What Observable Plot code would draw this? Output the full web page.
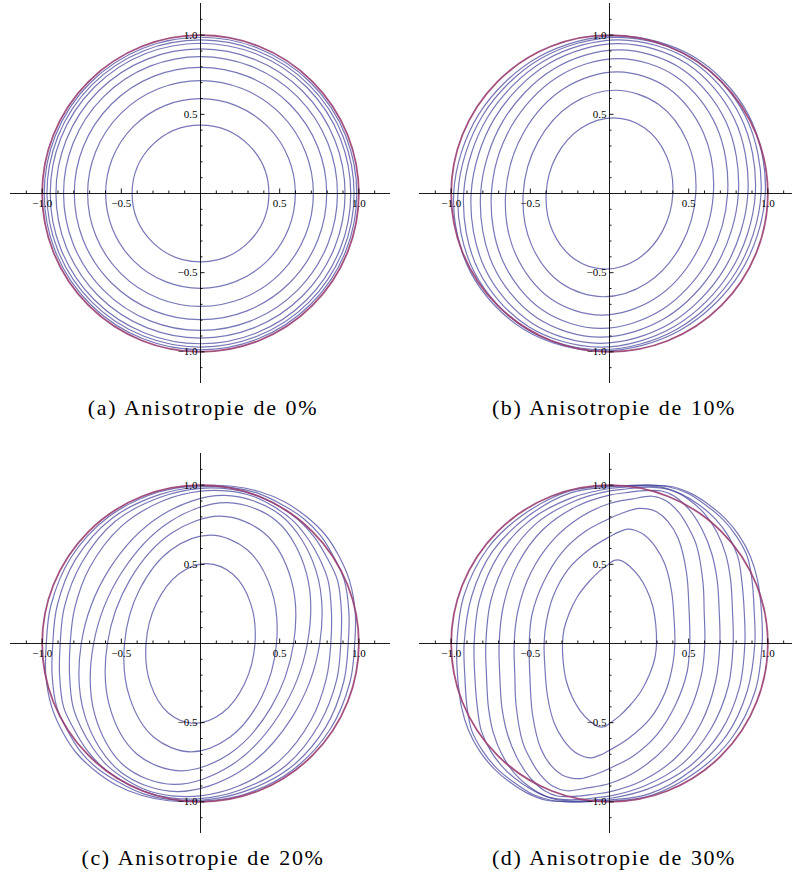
<!DOCTYPE html>
<html>
<head>
<meta charset="utf-8">
<script src="https://cdn.jsdelivr.net/npm/d3@7"></script>
<script src="https://cdn.jsdelivr.net/npm/@observablehq/plot@0.6"></script>
<style>
  html, body { margin: 0; padding: 0; background: #fff; }
  #page { position: relative; width: 792px; height: 877px; overflow: hidden; background: #fff; }
  .panel { position: absolute; }
  .caption {
    position: absolute; width: 340px; text-align: center; white-space: nowrap;
    font-family: "Liberation Serif", serif; font-size: 22px; line-height: 20px;
    letter-spacing: 1.6px; word-spacing: 1px; color: #000;
  }
</style>
</head>
<body>
<div id="page"></div>
<script>
// Level curves of the four cases, each listed counter-clockwise from its
// crossing of the positive x-axis, in plot units.

// (a) isotropic case: concentric circles, given by radius
const radiiA = [0.432, 0.599, 0.713, 0.797, 0.865, 0.913, 0.949, 0.970, 0.987];

// unit circle drawn in every panel
const boundary = [{ r: 1 }];

// (b) 10 %
const curvesB = [
  [[0.40,0],[0.359,0.239],[0.222,0.413],[0.025,0.477],[-0.178,0.413],[-0.334,0.239],[-0.40,0],[-0.359,-0.239],[-0.222,-0.413],[-0.025,-0.477],[0.178,-0.413],[0.334,-0.239]],
  [[0.545,0],[0.492,0.326],[0.307,0.565],[0.04,0.652],[-0.238,0.565],[-0.452,0.326],[-0.545,0],[-0.492,-0.326],[-0.307,-0.565],[-0.04,-0.652],[0.238,-0.565],[0.452,-0.326]],
  [[0.656,0],[0.593,0.384],[0.371,0.665],[0.05,0.768],[-0.285,0.665],[-0.543,0.384],[-0.656,0],[-0.593,-0.384],[-0.371,-0.665],[-0.05,-0.768],[0.285,-0.665],[0.543,-0.384]],
  [[0.746,0],[0.674,0.426],[0.421,0.738],[0.055,0.852],[-0.325,0.738],[-0.619,0.426],[-0.746,0],[-0.674,-0.426],[-0.421,-0.738],[-0.055,-0.852],[0.325,-0.738],[0.619,-0.426]],
  [[0.814,0],[0.735,0.454],[0.459,0.785],[0.06,0.907],[-0.355,0.785],[-0.675,0.454],[-0.814,0],[-0.735,-0.454],[-0.459,-0.785],[-0.06,-0.907],[0.355,-0.785],[0.675,-0.454]],
  [[0.874,0],[0.787,0.473],[0.489,0.819],[0.06,0.946],[-0.385,0.819],[-0.727,0.473],[-0.874,0],[-0.787,-0.473],[-0.489,-0.819],[-0.06,-0.946],[0.385,-0.819],[0.727,-0.473]],
  [[0.921,0],[0.828,0.485],[0.513,0.84],[0.06,0.97],[-0.409,0.84],[-0.768,0.485],[-0.921,0],[-0.828,-0.485],[-0.513,-0.84],[-0.06,-0.97],[0.409,-0.84],[0.768,-0.485]],
  [[0.957,0],[0.856,0.493],[0.526,0.854],[0.055,0.986],[-0.431,0.854],[-0.801,0.493],[-0.957,0],[-0.856,-0.493],[-0.526,-0.854],[-0.055,-0.986],[0.431,-0.854],[0.801,-0.493]],
  [[0.984,0],[0.877,0.498],[0.535,0.862],[0.05,0.995],[-0.449,0.862],[-0.827,0.498],[-0.984,0],[-0.877,-0.498],[-0.535,-0.862],[-0.05,-0.995],[0.449,-0.862],[0.827,-0.498]]
];

// (c) 20 %
const curvesC = [
  [[0.344,0],[0.317,0.252],[0.205,0.437],[0.038,0.504],[-0.139,0.437],[-0.279,0.252],[-0.344,0],[-0.317,-0.252],[-0.205,-0.437],[-0.038,-0.504],[0.139,-0.437],[0.279,-0.252]],
  [[0.48,0],[0.447,0.342],[0.295,0.592],[0.063,0.684],[-0.185,0.592],[-0.384,0.342],[-0.48,0],[-0.447,-0.342],[-0.295,-0.592],[-0.063,-0.684],[0.185,-0.592],[0.384,-0.342]],
  [[0.588,0],[0.573,0.402],[0.404,0.696],[0.127,0.804],[-0.184,0.696],[-0.446,0.402],[-0.588,0],[-0.573,-0.402],[-0.404,-0.696],[-0.127,-0.804],[0.184,-0.696],[0.446,-0.402]],
  [[0.675,0],[0.669,0.445],[0.484,0.771],[0.169,0.89],[-0.191,0.771],[-0.5,0.445],[-0.675,0],[-0.669,-0.445],[-0.484,-0.771],[-0.169,-0.89],[0.191,-0.771],[0.5,-0.445]],
  [[0.753,0],[0.727,0.468],[0.506,0.81],[0.15,0.935],[-0.246,0.81],[-0.577,0.468],[-0.753,0],[-0.727,-0.468],[-0.506,-0.81],[-0.15,-0.935],[0.246,-0.81],[0.577,-0.468]],
  [[0.823,0],[0.827,0.2],[0.805,0.4],[0.75,0.54],[0.68,0.66],[0.59,0.77],[0.47,0.86],[0.33,0.93],[0.18,0.962],[0,0.962],[-0.24,0.9],[-0.5,0.74],[-0.7,0.48],[-0.795,0.22],
   [-0.823,0],[-0.827,-0.2],[-0.805,-0.4],[-0.75,-0.54],[-0.68,-0.66],[-0.59,-0.77],[-0.47,-0.86],[-0.33,-0.93],[-0.18,-0.962],[0,-0.962],[0.24,-0.9],[0.5,-0.74],[0.7,-0.48],[0.795,-0.22]],
  [[0.886,0],[0.89,0.2],[0.865,0.4],[0.8,0.54],[0.72,0.67],[0.62,0.78],[0.49,0.87],[0.34,0.94],[0.19,0.975],[0,0.98],[-0.25,0.925],[-0.54,0.77],[-0.75,0.51],[-0.86,0.23],
   [-0.886,0],[-0.89,-0.2],[-0.865,-0.4],[-0.8,-0.54],[-0.72,-0.67],[-0.62,-0.78],[-0.49,-0.87],[-0.34,-0.94],[-0.19,-0.975],[0,-0.98],[0.25,-0.925],[0.54,-0.77],[0.75,-0.51],[0.86,-0.23]],
  [[0.933,0],[0.937,0.2],[0.908,0.4],[0.84,0.55],[0.76,0.68],[0.65,0.79],[0.51,0.88],[0.36,0.95],[0.2,0.985],[0,0.99],[-0.26,0.94],[-0.56,0.79],[-0.79,0.53],[-0.905,0.24],
   [-0.933,0],[-0.937,-0.2],[-0.908,-0.4],[-0.84,-0.55],[-0.76,-0.68],[-0.65,-0.79],[-0.51,-0.88],[-0.36,-0.95],[-0.2,-0.985],[0,-0.99],[0.26,-0.94],[0.56,-0.79],[0.79,-0.53],[0.905,-0.24]],
  [[0.974,0],[0.977,0.2],[0.94,0.4],[0.87,0.56],[0.785,0.69],[0.67,0.8],[0.53,0.895],[0.37,0.96],[0.2,0.993],[0,0.997],[-0.27,0.955],[-0.58,0.8],[-0.82,0.54],[-0.945,0.24],
   [-0.974,0],[-0.977,-0.2],[-0.94,-0.4],[-0.87,-0.56],[-0.785,-0.69],[-0.67,-0.8],[-0.53,-0.895],[-0.37,-0.96],[-0.2,-0.993],[0,-0.997],[0.27,-0.955],[0.58,-0.8],[0.82,-0.54],[0.945,-0.24]]
];

// (d) 30 %
const curvesD = [
  [[0.297,0],[0.292,0.12],[0.272,0.24],[0.235,0.34],[0.185,0.425],[0.125,0.49],[0.07,0.525],[0.03,0.525],[0,0.505],[-0.06,0.46],[-0.13,0.39],[-0.2,0.3],[-0.255,0.19],[-0.287,0.09],
   [-0.297,0],[-0.292,-0.12],[-0.272,-0.24],[-0.235,-0.34],[-0.185,-0.425],[-0.125,-0.49],[-0.07,-0.525],[-0.03,-0.525],[0,-0.505],[0.06,-0.46],[0.13,-0.39],[0.2,-0.3],[0.255,-0.19],[0.287,-0.09]],
  [[0.413,0],[0.408,0.15],[0.392,0.33],[0.35,0.5],[0.29,0.61],[0.22,0.685],[0.16,0.715],[0.114,0.722],[0.06,0.705],[0,0.674],[-0.12,0.6],[-0.26,0.47],[-0.355,0.3],[-0.4,0.13],
   [-0.413,0],[-0.408,-0.15],[-0.392,-0.33],[-0.35,-0.5],[-0.29,-0.61],[-0.22,-0.685],[-0.16,-0.715],[-0.114,-0.722],[-0.06,-0.705],[0,-0.674],[0.12,-0.6],[0.26,-0.47],[0.355,-0.3],[0.4,-0.13]],
  [[0.507,0],[0.503,0.2],[0.486,0.45],[0.434,0.663],[0.37,0.77],[0.3,0.83],[0.24,0.85],[0.181,0.853],[0.09,0.827],[0,0.789],[-0.15,0.71],[-0.3,0.575],[-0.42,0.38],[-0.49,0.18],
   [-0.507,0],[-0.503,-0.2],[-0.486,-0.45],[-0.434,-0.663],[-0.37,-0.77],[-0.3,-0.83],[-0.24,-0.85],[-0.181,-0.853],[-0.09,-0.827],[0,-0.789],[0.15,-0.71],[0.3,-0.575],[0.42,-0.38],[0.49,-0.18]],
  [[0.602,0],[0.598,0.2],[0.59,0.39],[0.549,0.621],[0.5,0.73],[0.44,0.825],[0.36,0.9],[0.27,0.93],[0.14,0.912],[0,0.884],[-0.18,0.8],[-0.36,0.65],[-0.5,0.44],[-0.58,0.2],
   [-0.602,0],[-0.598,-0.2],[-0.59,-0.39],[-0.549,-0.621],[-0.5,-0.73],[-0.44,-0.825],[-0.36,-0.9],[-0.27,-0.93],[-0.14,-0.912],[0,-0.884],[0.18,-0.8],[0.36,-0.65],[0.5,-0.44],[0.58,-0.2]],
  [[0.697,0],[0.693,0.2],[0.68,0.4],[0.645,0.57],[0.585,0.72],[0.5,0.85],[0.41,0.93],[0.33,0.963],[0.22,0.965],[0.1,0.952],[0,0.937],[-0.2,0.87],[-0.42,0.72],[-0.58,0.5],[-0.67,0.24],
   [-0.697,0],[-0.693,-0.2],[-0.68,-0.4],[-0.645,-0.57],[-0.585,-0.72],[-0.5,-0.85],[-0.41,-0.93],[-0.33,-0.963],[-0.22,-0.965],[-0.1,-0.952],[0,-0.937],[0.2,-0.87],[0.42,-0.72],[0.58,-0.5],[0.67,-0.24]],
  [[0.781,0],[0.777,0.2],[0.765,0.4],[0.735,0.56],[0.68,0.7],[0.6,0.82],[0.5,0.91],[0.4,0.965],[0.3,0.985],[0.18,0.985],[0.08,0.973],[0,0.964],[-0.22,0.9],[-0.46,0.76],[-0.64,0.54],[-0.75,0.27],
   [-0.781,0],[-0.777,-0.2],[-0.765,-0.4],[-0.735,-0.56],[-0.68,-0.7],[-0.6,-0.82],[-0.5,-0.91],[-0.4,-0.965],[-0.3,-0.985],[-0.18,-0.985],[-0.08,-0.973],[0,-0.964],[0.22,-0.9],[0.46,-0.76],[0.64,-0.54],[0.75,-0.27]],
  [[0.855,0],[0.851,0.2],[0.835,0.4],[0.81,0.55],[0.75,0.68],[0.665,0.79],[0.56,0.88],[0.45,0.945],[0.34,0.985],[0.22,0.995],[0.1,0.988],[0,0.979],[-0.24,0.92],[-0.5,0.78],[-0.7,0.56],[-0.82,0.28],
   [-0.855,0],[-0.851,-0.2],[-0.835,-0.4],[-0.81,-0.55],[-0.75,-0.68],[-0.665,-0.79],[-0.56,-0.88],[-0.45,-0.945],[-0.34,-0.985],[-0.22,-0.995],[-0.1,-0.988],[0,-0.979],[0.24,-0.92],[0.5,-0.78],[0.7,-0.56],[0.82,-0.28]],
  [[0.918,0],[0.914,0.2],[0.9,0.4],[0.87,0.55],[0.8,0.68],[0.71,0.79],[0.6,0.88],[0.49,0.95],[0.37,0.99],[0.24,1.0],[0.1,0.995],[0,0.989],[-0.25,0.95],[-0.52,0.8],[-0.74,0.58],[-0.87,0.3],
   [-0.918,0],[-0.914,-0.2],[-0.9,-0.4],[-0.87,-0.55],[-0.8,-0.68],[-0.71,-0.79],[-0.6,-0.88],[-0.49,-0.95],[-0.37,-0.99],[-0.24,-1.0],[-0.1,-0.995],[0,-0.989],[0.25,-0.95],[0.52,-0.8],[0.74,-0.58],[0.87,-0.3]],
  [[0.964,0],[0.96,0.2],[0.935,0.4],[0.89,0.55],[0.82,0.68],[0.73,0.79],[0.63,0.875],[0.52,0.945],[0.4,0.99],[0.25,1.0],[0.1,0.998],[0,0.996],[-0.26,0.96],[-0.55,0.81],[-0.77,0.6],[-0.92,0.3],
   [-0.964,0],[-0.96,-0.2],[-0.935,-0.4],[-0.89,-0.55],[-0.82,-0.68],[-0.73,-0.79],[-0.63,-0.875],[-0.52,-0.945],[-0.4,-0.99],[-0.25,-1.0],[-0.1,-0.998],[0,-0.996],[0.26,-0.96],[0.55,-0.81],[0.77,-0.6],[0.92,-0.3]]
];

// axis ticks and labels
const minorTicks = [-1.1,-0.9,-0.8,-0.7,-0.6,-0.4,-0.3,-0.2,-0.1,0.1,0.2,0.3,0.4,0.6,0.7,0.8,0.9,1.1];
const majorTicks = [-1, -0.5, 0.5, 1];
const tickLabels = ["\u22121.0", "\u22120.5", "0.5", "1.0"];

const captions = [
  "(a) Anisotropie de 0%",
  "(b) Anisotropie de 10%",
  "(c) Anisotropie de 20%",
  "(d) Anisotropie de 30%"
];

// ---- drawing ----
const BLUE = "#3d3d99";
const RED = "#993d71";
const SIZE = 400, M = 10, SPAN = 1.2;
const UNIT = (SIZE - 2 * M) / (2 * SPAN);   // pixels per plot unit
const MINOR = 2.5 / UNIT, MAJOR = 4.5 / UNIT;

const toRows = curves => curves.flatMap((pts, k) => pts.map(([x, y]) => ({ x, y, k })));

function axisMarks() {
  const labelled = majorTicks.map((v, i) => ({ v, label: tickLabels[i] }));
  const ink = { stroke: "#000", strokeWidth: 0.9 };
  return [
    Plot.ruleY([0], { x1: -SPAN, x2: SPAN, ...ink }),
    Plot.ruleX([0], { y1: -SPAN, y2: SPAN, ...ink }),
    Plot.ruleX(minorTicks, { x: d => d, y1: 0, y2: MINOR, ...ink }),
    Plot.ruleX(majorTicks, { x: d => d, y1: 0, y2: MAJOR, ...ink }),
    Plot.ruleY(minorTicks, { y: d => d, x1: 0, x2: MINOR, ...ink }),
    Plot.ruleY(majorTicks, { y: d => d, x1: 0, x2: MAJOR, ...ink }),
    Plot.text(labelled, { x: "v", y: 0, text: "label", dy: 10, fill: "#000", fontSize: 11 }),
    Plot.text(labelled, { x: 0, y: "v", text: "label", dx: -3, textAnchor: "end", fill: "#000", fontSize: 11 })
  ];
}

function panel(levelMarks) {
  return Plot.plot({
    width: SIZE, height: SIZE, margin: M,
    x: { domain: [-SPAN, SPAN], axis: null },
    y: { domain: [-SPAN, SPAN], axis: null },
    r: { type: "linear", domain: [0, SPAN], range: [0, SPAN * UNIT] },
    style: { fontFamily: "Liberation Serif", fontSize: "11px", background: "transparent", overflow: "visible", maxWidth: "none" },
    marks: [
      ...levelMarks,
      Plot.dot(boundary, { x: 0, y: 0, r: "r", stroke: RED, strokeWidth: 1.8, strokeOpacity: 0.9, fill: "none" }),
      ...axisMarks()
    ]
  });
}

const blueStyle = { stroke: BLUE, strokeWidth: 1.2, strokeOpacity: 0.7 };
const curveMarks = curves => [
  Plot.line(toRows(curves), { x: "x", y: "y", z: "k", curve: "catmull-rom-closed", ...blueStyle })
];

const figures = [
  panel([Plot.dot(radiiA, { x: 0, y: 0, r: d => d, fill: "none", ...blueStyle })]),
  panel(curveMarks(curvesB)),
  panel(curveMarks(curvesC)),
  panel(curveMarks(curvesD))
];

const panelPos = [[0, -7], [409, -7], [0, 443], [409, 443]];
const captionPos = [[203, 398], [614, 398], [203, 848], [614, 848]];

const page = document.getElementById("page");
figures.forEach((svg, i) => {
  const wrap = document.createElement("div");
  wrap.className = "panel";
  wrap.style.left = panelPos[i][0] + "px";
  wrap.style.top = panelPos[i][1] + "px";
  wrap.appendChild(svg);
  page.appendChild(wrap);

  const cap = document.createElement("div");
  cap.className = "caption";
  cap.textContent = captions[i];
  cap.style.left = (captionPos[i][0] - 170) + "px";
  cap.style.top = captionPos[i][1] + "px";
  page.appendChild(cap);
});
</script>
</body>
</html>
